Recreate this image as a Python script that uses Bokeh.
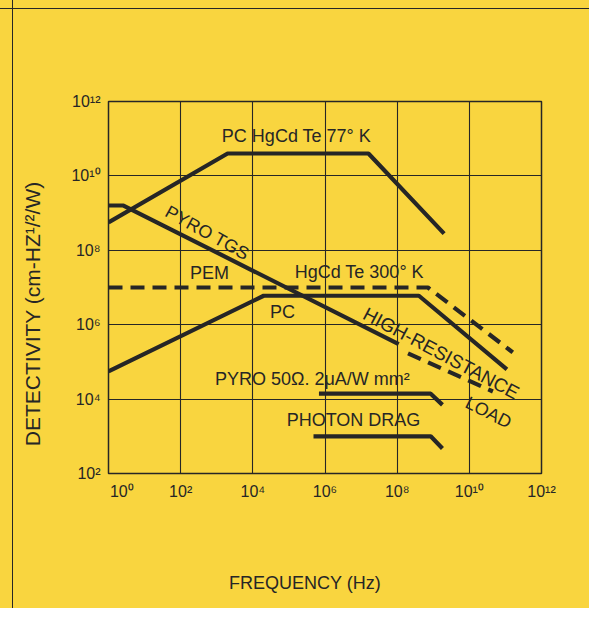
from bokeh.plotting import figure
from bokeh.models import Range1d, FixedTicker, Label
from bokeh.embed import file_html
from bokeh.resources import INLINE

# ---- data (frequency in Hz, detectivity in cm-Hz^1/2/W) ----
pc77_freq = [1.0, 2.0e3, 1.6e7, 2.0e9]
pc77_det = [5.6e8, 4.0e10, 4.0e10, 2.8e8]

pyro_tgs_freq = [1.0, 2.6, 1.1e8]
pyro_tgs_det = [1.6e9, 1.6e9, 3.0e5]

hr_load_freq = [2.0e8, 4.5e10]
hr_load_det = [1.7e5, 1.6e4]

pem300_freq = [1.0, 7.1e8, 1.6e11]
pem300_det = [1.0e7, 1.0e7, 1.8e5]

pc300_freq = [1.0, 2.0e4, 4.0e8, 1.1e11]
pc300_det = [5.6e4, 6.0e6, 6.0e6, 6.3e4]

pyro50_freq = [6.8e5, 8.5e8, 1.8e9]
pyro50_det = [1.4e4, 1.4e4, 7.0e3]

drag_freq = [4.8e5, 8.5e8, 1.8e9]
drag_det = [1.0e3, 1.0e3, 4.7e2]

x_ticks = [1e0, 1e2, 1e4, 1e6, 1e8, 1e10, 1e12]
x_tick_labels = ["10⁰", "10²", "10⁴", "10⁶", "10⁸", "10¹⁰", "10¹²"]
y_ticks = [1e2, 1e4, 1e6, 1e8, 1e10, 1e12]
y_tick_labels = ["10²", "10⁴", "10⁶", "10⁸", "10¹⁰", "10¹²"]

# ---- styling ----
BG = "#F9D53F"
INK = "#262626"
FONT = "Liberation Sans"
NB = "\u00a0"

p = figure(width=589, height=608, x_axis_type="log", y_axis_type="log",
           x_range=Range1d(1, 1e12), y_range=Range1d(1e2, 1e12),
           output_backend="svg", toolbar_location=None,
           min_border_left=108, min_border_right=48,
           min_border_top=101, min_border_bottom=135)

# transparent canvas; the yellow panel and its outer rule come from the host element
p.background_fill_color = None
p.border_fill_color = None
p.styles = {
    "background-color": BG,
    "background-image": (
        f"linear-gradient(to right, transparent 12px, {INK} 12px, {INK} 13.5px, transparent 13.5px), "
        f"linear-gradient(to bottom, transparent 8px, {INK} 8px, {INK} 9.5px, transparent 9.5px)"
    ),
}
p.outline_line_color = INK
p.outline_line_width = 1.5

p.xaxis.ticker = FixedTicker(ticks=x_ticks, minor_ticks=[])
p.yaxis.ticker = FixedTicker(ticks=y_ticks, minor_ticks=[])
x_label_map = dict(zip(x_ticks, x_tick_labels))
x_label_map[x_ticks[0]] = NB * 6 + x_tick_labels[0]   # first label sits right of the corner
p.xaxis.major_label_overrides = x_label_map
p.yaxis.major_label_overrides = dict(zip(y_ticks, y_tick_labels))

for ax in (p.xaxis, p.yaxis):
    ax.axis_line_color = None
    ax.major_tick_line_color = None
    ax.minor_tick_line_color = None
    ax.major_tick_out = 0
    ax.minor_tick_out = 0
    ax.major_tick_in = 0
    ax.major_label_text_font = FONT
    ax.major_label_text_font_size = "16px"
    ax.major_label_text_color = INK
    ax.axis_label_text_font = FONT
    ax.axis_label_text_font_style = "normal"
    ax.axis_label_text_color = INK
p.xaxis.major_label_standoff = 9
p.yaxis.major_label_standoff = 8

p.xaxis.axis_label = "FREQUENCY (Hz)" + NB * 8
p.xaxis.axis_label_text_font_size = "18px"
p.xaxis.axis_label_standoff = 70
p.yaxis.axis_label = "DETECTIVITY (cm-HZ¹/²/W)" + NB * 9
p.yaxis.axis_label_text_font_size = "21px"
p.yaxis.axis_label_standoff = 24

for g in (p.xgrid, p.ygrid):
    g.grid_line_color = INK
    g.grid_line_width = 1.1
    g.grid_line_alpha = 1.0

LW = 4.2
p.line(pc77_freq, pc77_det, line_color=INK, line_width=LW)
p.line(pyro_tgs_freq, pyro_tgs_det, line_color=INK, line_width=LW)
p.line(hr_load_freq, hr_load_det, line_color=INK, line_width=LW, line_dash="14 8")
p.line(pem300_freq, pem300_det, line_color=INK, line_width=LW, line_dash="14 8")
p.line(pc300_freq, pc300_det, line_color=INK, line_width=LW)
p.line(pyro50_freq, pyro50_det, line_color=INK, line_width=LW)
p.line(drag_freq, drag_det, line_color=INK, line_width=LW)


def lab(text, xl, yl, angle_deg=0.0, size="18px"):
    p.add_layout(Label(x=10 ** xl, y=10 ** yl, text=text,
                       angle=angle_deg, angle_units="deg",
                       text_align="center", text_baseline="middle",
                       text_font=FONT, text_font_size=size, text_color=INK))


lab("PC HgCd Te 77° K", 5.21, 11.08)
lab("PYRO TGS", 2.74, 8.47, -29)
lab("PEM", 2.80, 7.39)
lab("HgCd Te 300° K", 6.95, 7.42)
lab("PC", 4.82, 6.34)
lab("HIGH-RESISTANCE", 9.22, 5.23, -28, "19px")
lab("LOAD", 10.53, 3.64, -27)
lab("PYRO 50Ω. 2μA/W mm²", 5.65, 4.53)
lab("PHOTON DRAG", 6.79, 3.43)

open("out.html", "w").write(file_html(p, INLINE))
